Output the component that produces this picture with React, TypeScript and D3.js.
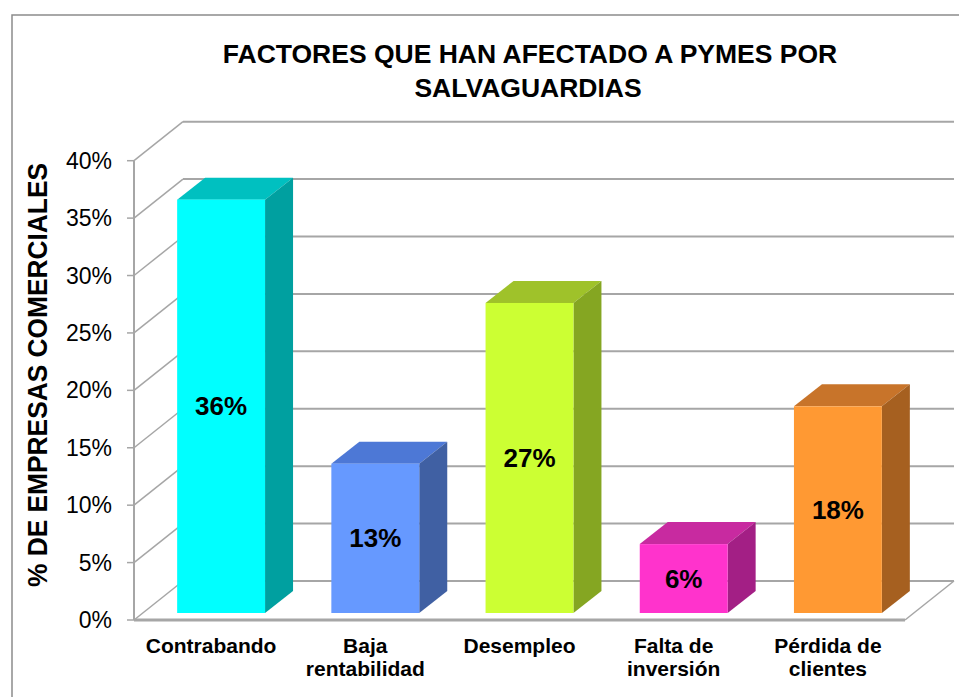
import * as d3 from 'd3'

const categories = ['Contrabando', 'Baja rentabilidad', 'Desempleo', 'Falta de inversión', 'Pérdida de clientes']
const labelLines = [['Contrabando'], ['Baja', 'rentabilidad'], ['Desempleo'], ['Falta de', 'inversión'], ['Pérdida de', 'clientes']]
const values = [0.36, 0.13, 0.27, 0.06, 0.18]
const valueLabels = ['36%', '13%', '27%', '6%', '18%']
const yTicks = [0, 0.05, 0.1, 0.15, 0.2, 0.25, 0.3, 0.35, 0.4]

const frontColors = ['#00FFFF', '#6699FF', '#CCFF33', '#FF33CC', '#FF9933']
const topColors = ['#00C0C0', '#4D78D6', '#9FC22A', '#C82AA0', '#C8742A']
const sideColors = ['#00A0A0', '#4060A3', '#85A622', '#A31F85', '#A66020']

const W = 959
const H = 697
const font = 'Liberation Sans, Arial, sans-serif'
const grid = '#A6A6A6'

// depth of the box (back wall offset) and bar placement inside it
const depth = { dx: 49, dy: -39 }
const barOff = { dx: 10, dy: -7 }
const barDepth = { dx: 28, dy: -22 }

const App = () => {
    const y = d3.scaleLinear().domain([0, 0.4]).range([620, 160.7])
    const x = d3.scaleBand<string>()
        .domain(categories)
        .range([134, 905])
        .paddingInner(0.43)
        .paddingOuter(0.215)

    const left = 134
    const right = 905
    const fmt = d3.format('.0%')

    return (
        <svg width={W} height={H} style={{ position: 'absolute', left: 0, top: 0 }} fontFamily={font}>
            <rect x={0} y={0} width={W} height={H} fill='#fff' />
            {/* borde del grafico */}
            <path d={`M12,${H} L12,15 L${W},15`} fill='none' stroke='#8C8C8C' strokeWidth={1.5} />

            {/* titulo */}
            <text x={530} y={63} textAnchor='middle' fontSize={26.5} fontWeight='bold'>
                FACTORES QUE HAN AFECTADO A PYMES POR
            </text>
            <text x={528} y={97} textAnchor='middle' fontSize={26.5} fontWeight='bold'>
                SALVAGUARDIAS
            </text>

            {/* pared de fondo y pared izquierda */}
            {yTicks.map(t => (
                <g key={t}>
                    <line x1={left + depth.dx} x2={right + depth.dx} y1={y(t) + depth.dy} y2={y(t) + depth.dy} stroke={grid} strokeWidth={2} />
                    <line x1={left} x2={left + depth.dx} y1={y(t)} y2={y(t) + depth.dy} stroke={grid} strokeWidth={1.5} />
                    <line x1={left - 7} x2={left} y1={y(t)} y2={y(t)} stroke={grid} strokeWidth={1.5} />
                    <text x={112} y={y(t)} textAnchor='end' dominantBaseline='central' fontSize={23} fill='#000'>
                        {fmt(t)}
                    </text>
                </g>
            ))}

            {/* suelo */}
            <line x1={right} x2={right + depth.dx} y1={y(0)} y2={y(0) + depth.dy} stroke={grid} strokeWidth={1.5} />
            <line x1={left} x2={right} y1={y(0)} y2={y(0)} stroke={grid} strokeWidth={3} />
            <line x1={left} x2={left} y1={y(0.4)} y2={y(0)} stroke={grid} strokeWidth={2} />

            {/* barras */}
            {categories.map((c, i) => {
                const x0 = (x(c) ?? 0) + barOff.dx
                const x1 = x0 + x.bandwidth()
                const yb = y(0) + barOff.dy
                const yt = y(values[i]) + barOff.dy
                const { dx, dy } = barDepth
                return (
                    <g key={c}>
                        <polygon points={`${x0},${yt} ${x1},${yt} ${x1 + dx},${yt + dy} ${x0 + dx},${yt + dy}`} fill={topColors[i]} />
                        <polygon points={`${x1},${yt} ${x1 + dx},${yt + dy} ${x1 + dx},${yb + dy} ${x1},${yb}`} fill={sideColors[i]} />
                        <rect x={x0} y={yt} width={x1 - x0} height={yb - yt} fill={frontColors[i]} />
                        <text x={(x0 + x1) / 2} y={(yt + yb) / 2} textAnchor='middle' dominantBaseline='central' fontSize={26} fontWeight='bold'>
                            {valueLabels[i]}
                        </text>
                    </g>
                )
            })}

            {/* etiquetas de categorias */}
            {categories.map((c, i) => (
                <text key={c} x={(x(c) ?? 0) + x.bandwidth() / 2} y={653} textAnchor='middle' fontSize={21} fontWeight='bold'>
                    {labelLines[i].map((l, j) => (
                        <tspan key={j} x={(x(c) ?? 0) + x.bandwidth() / 2} dy={j === 0 ? 0 : 23}>{l}</tspan>
                    ))}
                </text>
            ))}

            {/* titulo eje y */}
            <text transform='translate(47,375) rotate(-90)' textAnchor='middle' fontSize={27} fontWeight='bold' textLength={424} lengthAdjust='spacingAndGlyphs'>
                % DE EMPRESAS COMERCIALES
            </text>
        </svg>
    )
}

export default App
